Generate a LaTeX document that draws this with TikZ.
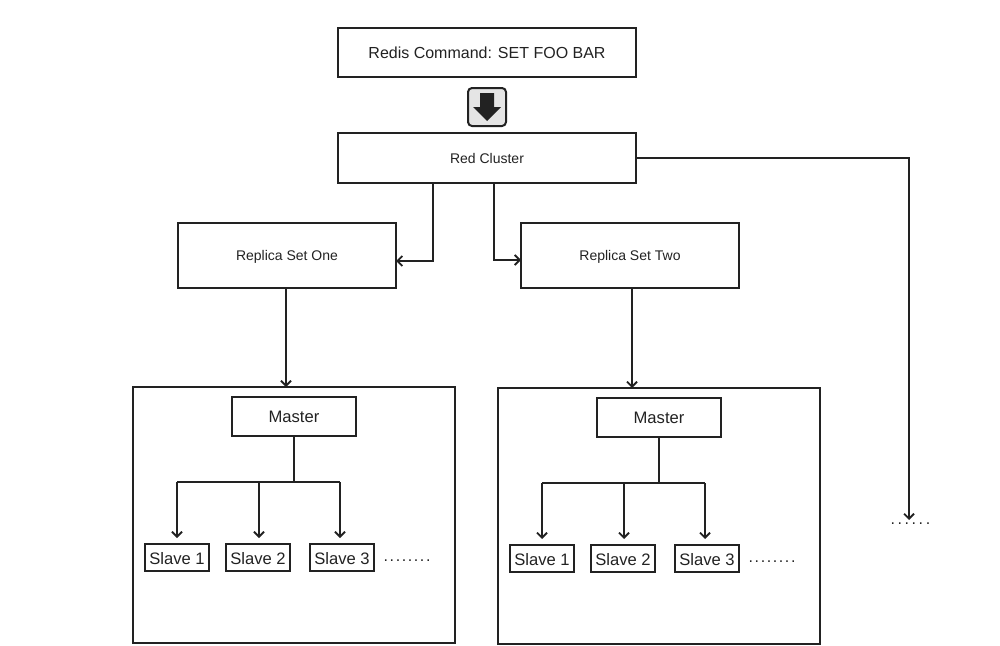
\documentclass[tikz,border=0pt]{standalone}
\usepackage{fontspec}
\setmainfont{Liberation Sans}
\newfontfamily\dotfont[LetterSpace=10]{Liberation Sans}
\newfontfamily\dotwide[LetterSpace=16]{Liberation Sans}
\usetikzlibrary{arrows.meta,calc}
\definecolor{ink}{HTML}{222222}
\tikzset{
  x=1pt,y=-1pt,
  box/.style={draw=ink,line width=2pt,rectangle,inner sep=0pt,outer sep=0pt,text=ink,anchor=north west},
  big/.style={font=\fontsize{16}{19}\selectfont},
  mid/.style={font=\fontsize{16.6}{19}\selectfont},
  small/.style={font=\fontsize{14}{17}\selectfont},
  wire/.style={draw=ink,line width=2pt},
  arrow/.style={wire,-{Straight Barb[length=5pt,width=10pt,line width=1.8pt]}},
  dotrow/.style={text=ink,inner sep=0pt,font=\dotfont\fontsize{16}{19}\selectfont},
  dotrowwide/.style={text=ink,inner sep=0pt,font=\dotwide\fontsize{16}{19}\selectfont},
}
\newcommand{\bx}[7]{\node[box,#1,minimum width=#5-#3,minimum height=#6-#4] (#2) at (#3,#4) {#7};}
\newcommand{\lowered}[2]{\raisebox{-#1}[\height][\depth]{#2}}
\begin{document}
\begin{tikzpicture}
\useasboundingbox (0,0) rectangle (1000,645);
\bx{big}{cmd}{338}{28}{636}{77}{Redis Command: SET FOO BAR}
\bx{small}{red}{338}{133}{636}{183}{Red Cluster}
\bx{small}{rsa}{178}{223}{396}{288}{\lowered{1.5pt}{Replica Set One}}
\bx{small}{rsb}{521}{223}{739}{288}{\lowered{1.5pt}{Replica Set Two}}
\bx{big}{conta}{133}{387}{455}{643}{}
\bx{big}{contb}{498}{388}{820}{644}{}
\bx{mid}{ma}{232}{397}{356}{436}{Master}
\bx{mid}{mb}{597}{398}{721}{437}{Master}
\bx{mid}{sa1}{145}{544}{209}{571}{\lowered{1pt}{Slave 1}}
\bx{mid}{sa2}{226}{544}{290}{571}{\lowered{1pt}{Slave 2}}
\bx{mid}{sa3}{310}{544}{374}{571}{\lowered{1pt}{Slave 3}}
\bx{mid}{sb1}{510}{545}{574}{572}{\lowered{1pt}{Slave 1}}
\bx{mid}{sb2}{591}{545}{655}{572}{\lowered{1pt}{Slave 2}}
\bx{mid}{sb3}{675}{545}{739}{572}{\lowered{1pt}{Slave 3}}
\node[dotrow,anchor=west] (da) at (383.5,561) {........};
\node[dotrow,anchor=west] (db) at (748.5,562) {........};
\node[dotrowwide,anchor=west] (dc) at (890.5,524) {......};
% icon
\node[draw=ink,line width=2pt,fill=black!10,rounded corners=4pt,minimum size=38pt,inner sep=0pt,outer sep=0pt] (icon) at (487,107) {};
\fill[ink] (480,93) -- (494,93) -- (494,107) -- (501,107) -- (487,121) -- (473,107) -- (480,107) -- cycle;
% connectors
\draw[arrow] (red.south west -| 433,0) -- (433,261) -- (rsa.east |- 0,261);
\draw[arrow] (red.south west -| 494,0) -- (494,260) -- (rsb.west |- 0,260);
\coordinate (far) at (909,520);
\draw[arrow] (red.east) -- (far |- red.east) -- (far);
\draw[arrow] (rsa.south -| 286,0) -- (conta.north -| 286,0);
\draw[arrow] (rsb.south -| 632,0) -- (contb.north -| 632,0);
\foreach \m/\off/\ya/\xa/\xb/\xc/\yend in {ma/0/482/177/259/340/538,mb/0/483/542/624/705/539}{
  \draw[wire] (\m.south) -- (\m.south |- 0,\ya);
  \draw[wire] (\xa,\ya) -- (\xc,\ya);
  \draw[arrow] (\xa,\ya) -- (\xa,\yend);
  \draw[arrow] (\xb,\ya) -- (\xb,\yend);
  \draw[arrow] (\xc,\ya) -- (\xc,\yend);
}
\end{tikzpicture}
\end{document}
